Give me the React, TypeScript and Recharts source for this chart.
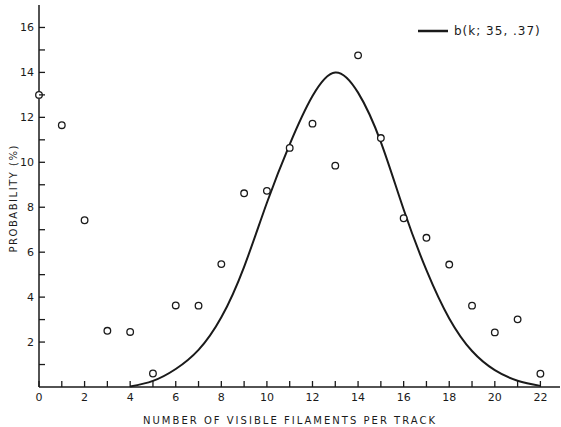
import {
  ComposedChart,
  Line,
  Scatter,
  XAxis,
  YAxis,
  Legend,
  Label,
} from "recharts";

// observed frequencies (%) for k = 0..22 visible filaments
const filaments = [0, 1, 2, 3, 4, 5, 6, 7, 8, 9, 10, 11, 12, 13, 14, 15, 16, 17, 18, 19, 20, 21, 22];
const observed = [
  13.0, 11.65, 7.42, 2.5, 2.45, 0.6, 3.63, 3.62, 5.47, 8.62, 8.73, 10.64,
  11.72, 9.85, 14.76, 11.08, 7.51, 6.64, 5.45, 3.62, 2.43, 3.01, 0.59,
];

// binomial curve b(k; 35, .37) as drawn, k = 4..22
const curveK = [4, 5, 6, 7, 8, 9, 10, 11, 12, 13, 14, 15, 16, 17, 18, 19, 20, 21, 22];
const curveValues = [
  0.02, 0.27, 0.8, 1.65, 3.1, 5.35, 8.2, 10.8, 12.95, 14.0, 13.1, 10.9, 7.9,
  5.2, 3.05, 1.6, 0.75, 0.28, 0.05,
];

const xTicks = filaments;
const yTicks = [1, 2, 3, 4, 5, 6, 7, 8, 9, 10, 11, 12, 13, 14, 15, 16];
const legendLabel = "b(k; 35, .37)";

const pointData = filaments.map((k, i) => ({ k, obs: observed[i] }));
const curveData = curveK.map((k, i) => ({ k, fit: curveValues[i] }));

const INK = "#1a1a1a";
const FONT = "'DejaVu Sans', sans-serif";

const XTick = ({ x, y, payload }: any) => (
  <g>
    <line x1={x} x2={x} y1={y} y2={y - 6} stroke={INK} strokeWidth={1.3} />
    {payload.value % 2 === 0 && (
      <text x={x} y={y + 14} textAnchor="middle" fontSize={11} fontFamily={FONT} fill={INK}>
        {payload.value}
      </text>
    )}
  </g>
);

const YTick = ({ x, y, payload }: any) => (
  <g>
    <line x1={x} x2={x + 6} y1={y} y2={y} stroke={INK} strokeWidth={1.3} />
    {payload.value % 2 === 0 && (
      <text x={x - 5} y={y + 4} textAnchor="end" fontSize={11} fontFamily={FONT} fill={INK}>
        {payload.value}
      </text>
    )}
  </g>
);

const OpenCircle = (props: any) => (
  <circle cx={props.cx} cy={props.cy} r={3.3} fill="#fff" stroke={INK} strokeWidth={1.3} />
);

const LegendBox = () => (
  <div style={{ display: "flex", alignItems: "center", fontFamily: FONT, fontSize: 12, color: INK }}>
    <svg width={30} height={6} style={{ marginRight: 6 }}>
      <line x1={0} x2={30} y1={3} y2={3} stroke={INK} strokeWidth={2.5} />
    </svg>
    <span style={{ letterSpacing: 1 }}>{legendLabel}</span>
  </div>
);

export default function App() {
  return (
    <div style={{ position: "absolute", left: 0, top: 0, background: "#fff" }}>
      <ComposedChart
        width={561}
        height={427}
        margin={{ top: 5, right: 1, left: 0, bottom: 0 }}
      >
        <XAxis
          type="number"
          dataKey="k"
          domain={[0, 22.86]}
          ticks={xTicks}
          interval={0}
          tickSize={0}
          tickMargin={0}
          tickLine={false}
          tick={<XTick />}
          height={40}
          stroke={INK}
          strokeWidth={1.5}
        >
          <Label
            content={() => (
              <text
                x={289}
                y={424}
                textAnchor="middle"
                fontSize={10}
                fontFamily={FONT}
                fill={INK}
                textLength={292}
                lengthAdjust="spacing"
              >
                NUMBER OF VISIBLE FILAMENTS PER TRACK
              </text>
            )}
          />
        </XAxis>
        <YAxis
          type="number"
          domain={[0, 17]}
          ticks={yTicks}
          interval={0}
          tickSize={0}
          tickMargin={0}
          tickLine={false}
          tick={<YTick />}
          width={39}
          stroke={INK}
          strokeWidth={1.5}
        >
          <Label
            content={() => (
              <text
                x={0}
                y={0}
                transform="translate(17, 199) rotate(-90)"
                textAnchor="middle"
                fontSize={10}
                fontFamily={FONT}
                fill={INK}
                textLength={107}
                lengthAdjust="spacing"
              >
                PROBABILITY (%)
              </text>
            )}
          />
        </YAxis>
        <Legend
          layout="vertical"
          align="center"
          verticalAlign="middle"
          content={<LegendBox />}
          wrapperStyle={{ left: 418, top: 24, width: 140 }}
        />
        <Line
          data={curveData}
          dataKey="fit"
          type="natural"
          stroke={INK}
          strokeWidth={2}
          dot={false}
          isAnimationActive={false}
        />
        <Scatter
          data={pointData}
          dataKey="obs"
          shape={<OpenCircle />}
          isAnimationActive={false}
        />
      </ComposedChart>
    </div>
  );
}
